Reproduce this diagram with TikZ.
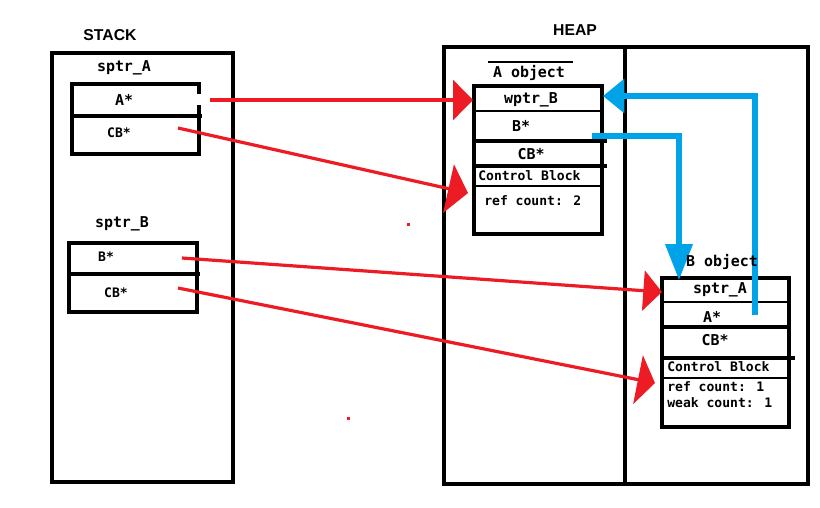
\documentclass[tikz,border=0pt]{standalone}
\usepackage{fontspec}
\newfontfamily\labelfont{DejaVu Sans Mono}
\newfontfamily\titlefont{Liberation Sans}
\usetikzlibrary{arrows.meta}
\definecolor{paintred}{RGB}{237,28,36}
\definecolor{paintblue}{RGB}{0,162,232}
\begin{document}
\begin{tikzpicture}[x=0.75pt,y=-0.75pt,
  frame/.style={draw=black,line width=3.3pt},
  boxline/.style={draw=black,line width=3pt},
  thinrule/.style={draw=black,line width=1.1pt},
  thickrule/.style={draw=black,line width=3pt},
  title/.style={font=\titlefont\bfseries\fontsize{11.8}{13}\selectfont,inner sep=0pt},
  biglabel/.style={font=\labelfont\bfseries\fontsize{11.2}{13}\selectfont,inner sep=0pt},
  smalllabel/.style={font=\labelfont\bfseries\fontsize{9.8}{11}\selectfont,inner sep=0pt},
  leftlabel/.style={smalllabel,anchor=west},
  ptr/.style={draw=paintred,line width=2.4pt},
  weak/.style={draw=paintblue,line width=3.8pt},
  speck/.style={fill=paintred,draw=none},
]
\useasboundingbox (0,0) rectangle (820,507);
\fill[white] (0,0) rectangle (820,507);

% ---------- stack ----------
\node[title] (stackT) at (110,35) {STACK};
\draw[frame] (52,53) rectangle (233,482);

\node[biglabel] (sAlbl) at (124,68) {sptr\_A};
\draw[boxline] (199,94) -- (199,84) -- (72,84) -- (72,154) -- (199,154) -- (199,105);
\draw[thickrule] (72,116) -- (202,116);
\node[biglabel] (sAa) at (124,100) {A*};
\node[smalllabel] (sAcb) at (119,133) {CB*};

\node[biglabel] (sBlbl) at (122,224) {sptr\_B};
\draw[boxline] (69,243) rectangle (197,312);
\draw[thickrule] (69,274) -- (200,274);
\node[smalllabel] (sBb) at (106,257) {B*};
\node[smalllabel] (sBcb) at (116,293) {CB*};

% ---------- heap ----------
\node[title] (heapT) at (575,30) {HEAP};
\draw[frame] (444,47) rectangle (808,484);
\draw[frame] (625,47) -- (625,484);

% A object
\draw[thinrule] (488,62) -- (573,62);
\node[biglabel] (aObj) at (529,73) {A object};
\draw[boxline] (474,86) rectangle (602,234);
\draw[thinrule] (474,111) -- (602,111);
\draw[thickrule] (474,141) -- (607,141);
\draw[thickrule] (474,166) -- (607,166);
\draw[thinrule] (474,186) -- (602,186);
\node[biglabel] (aW) at (531,100) {wptr\_B};
\node[biglabel] (aB) at (521,126) {B*};
\node[biglabel] (aCB) at (531,154) {CB*};
\node[leftlabel] (aCtl) at (478,176) {Control Block};
\node[leftlabel] (aRef) at (484,201) {ref count: 2};

% B object
\draw[boxline] (662,278) rectangle (789,427);
\draw[thinrule] (662,302) -- (789,302);
\draw[thickrule] (662,327) -- (789,327);
\draw[thickrule] (662,358) -- (795,358);
\draw[thinrule] (662,378) -- (789,378);
\node[biglabel] (bS) at (720,290) {sptr\_A};
\node[biglabel] (bA) at (712,317) {A*};
\node[biglabel] (bCB) at (715,340) {CB*};
\node[leftlabel] (bCtl) at (667,367) {Control Block};
\node[leftlabel] (bRef) at (667,387) {ref count: 1};
\node[leftlabel] (bWeak) at (667,403) {weak count: 1};

% ---------- connector end points ----------
\coordinate (pA0) at (210,100);
\coordinate (pA1) at (473,100);
\coordinate (cA0) at (178,128);
\coordinate (cA1) at (468,193);
\coordinate (pB0) at (182,258);
\coordinate (pB1) at (662,292);
\coordinate (cB0) at (178,288);
\coordinate (cB1) at (655,383);
\coordinate (wB0) at (592,136);
\coordinate (wB1) at (679,280);
\coordinate (wA0) at (755,315);
\coordinate (wA1) at (603,96);

% ---------- owning pointers ----------
\draw[ptr,-{Triangle[length=15pt,width=30pt]}] (pA0) -- (pA1);
\draw[ptr,-{Triangle[length=15pt,width=37pt]}] (cA0) -- (cA1);
\draw[ptr,-{Triangle[length=14pt,width=30pt]}] (pB0) -- (pB1);
\draw[ptr,-{Triangle[length=13pt,width=37pt]}] (cB0) -- (cB1);

% ---------- links between the objects ----------
\draw[weak,-{Triangle[length=27pt,width=20pt]}] (wB0) -| (wB1);
\draw[weak,-{Triangle[length=16pt,width=25pt]}] (wA0) |- (wA1);

% B object caption sits over the link lines
\node[biglabel] (bObj) at (722,262) {B object};

% stray marks
\fill[speck] (407,223) rectangle (410,226);
\fill[speck] (347,417) rectangle (350,420);
\end{tikzpicture}
\end{document}
